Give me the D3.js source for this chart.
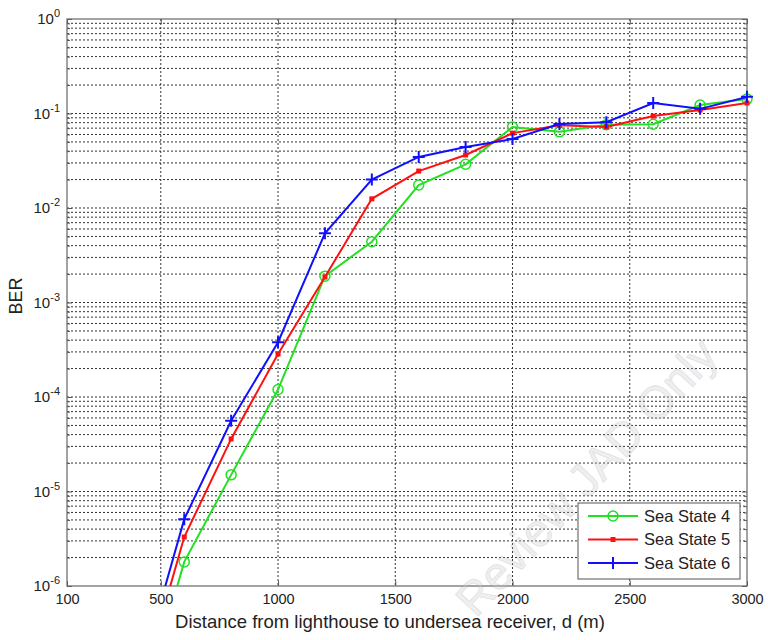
<!DOCTYPE html>
<html>
<head>
<meta charset="utf-8">
<script src="https://cdn.jsdelivr.net/npm/d3@7"></script>
<style>
  body { margin: 0; background: #fff; }
  text { font-family: Arial, 'Liberation Sans', sans-serif; fill: #222; }
</style>
</head>
<body>
<div class="chart"></div>
<script>
// values
const distance = [400, 600, 800, 1000, 1200, 1400, 1600, 1800, 2000, 2200, 2400, 2600, 2800, 3000]
const seaState4 = [3.5e-8, 1.8e-6, 1.5e-5, 1.2e-4, 1.9e-3, 4.4e-3, 1.75e-2, 2.9e-2, 7.2e-2, 6.4e-2, 7.6e-2, 7.7e-2, 1.23e-1, 1.42e-1]
const seaState5 = [6e-8, 3.3e-6, 3.6e-5, 2.85e-4, 1.86e-3, 1.25e-2, 2.46e-2, 3.64e-2, 6.2e-2, 7.5e-2, 7.2e-2, 9.4e-2, 1.09e-1, 1.29e-1]
const seaState6 = [9e-8, 5.1e-6, 5.6e-5, 3.8e-4, 5.4e-3, 2.0e-2, 3.47e-2, 4.42e-2, 5.37e-2, 7.74e-2, 8.1e-2, 1.29e-1, 1.12e-1, 1.5e-1]
const seriesNames = ['Sea State 4', 'Sea State 5', 'Sea State 6']
const xTicks = [100, 500, 1000, 1500, 2000, 2500, 3000]
const yExponents = [-6, -5, -4, -3, -2, -1, 0]

const width = 768
const height = 640
const margin = { left: 67, right: 21, top: 19, bottom: 54 }
const innerW = width - margin.left - margin.right
const innerH = height - margin.top - margin.bottom

const svg = d3
  .select('.chart')
  .append('svg')
  .attr('width', width)
  .attr('height', height)

const g = svg.append('g').attr('transform', `translate(${margin.left},${margin.top})`)

let x = d3.scaleLinear().domain([100, 3000]).range([0, innerW])
let y = d3.scaleLog().domain([1e-6, 1]).range([innerH, 0])

// minor values for log grid
let minorVals = []
yExponents.slice(0, -1).forEach((e) => {
  for (let m = 2; m <= 9; m++) minorVals.push(m * Math.pow(10, e))
})
let majorVals = yExponents.map((e) => Math.pow(10, e))

// grid
g.append('g')
  .selectAll('line')
  .data(majorVals.concat(minorVals).filter((v) => v > 1e-6 && v < 1))
  .enter()
  .append('line')
  .attr('x1', 0)
  .attr('x2', innerW)
  .attr('y1', (d) => y(d))
  .attr('y2', (d) => y(d))
  .style('stroke', '#333')
  .style('stroke-width', 1)
  .style('stroke-dasharray', '2,2')

g.append('g')
  .selectAll('line')
  .data(xTicks.slice(1, -1))
  .enter()
  .append('line')
  .attr('x1', (d) => x(d))
  .attr('x2', (d) => x(d))
  .attr('y1', 0)
  .attr('y2', innerH)
  .style('stroke', '#333')
  .style('stroke-width', 1)
  .style('stroke-dasharray', '2,2')

// axes
let xAxis = g
  .append('g')
  .attr('transform', `translate(0,${innerH})`)
  .call(d3.axisBottom(x).tickValues(xTicks).tickSize(-5).tickPadding(8).tickFormat(d3.format('d')))
g.append('g').call(d3.axisTop(x).tickValues(xTicks).tickSize(-5).tickFormat(''))

let yAxis = g.append('g').call(d3.axisLeft(y).tickValues(majorVals).tickSize(-5).tickPadding(7))
g.append('g').call(d3.axisLeft(y).tickValues(minorVals).tickSize(-3).tickFormat(''))
g.append('g')
  .attr('transform', `translate(${innerW},0)`)
  .call(d3.axisRight(y).tickValues(majorVals).tickSize(-5).tickFormat(''))
g.append('g')
  .attr('transform', `translate(${innerW},0)`)
  .call(d3.axisRight(y).tickValues(minorVals).tickSize(-3).tickFormat(''))

g.selectAll('.domain').remove()
g.selectAll('.tick line').style('stroke', '#555')
xAxis.selectAll('text').style('font-size', '14.5px').style('fill', '#222')

// 10^n labels
yAxis.selectAll('.tick text').each(function (d) {
  let t = d3.select(this)
  t.text('').style('font-size', '15px').style('fill', '#222').attr('dy', '0.3em')
  t.append('tspan').text('10')
  t.append('tspan')
    .text(Math.round(Math.log10(d)))
    .attr('dy', '-0.6em')
    .style('font-size', '11px')
})

// frame
g.append('rect')
  .attr('width', innerW)
  .attr('height', innerH)
  .style('fill', 'none')
  .style('stroke', '#666')
  .style('stroke-width', 1.2)

// series
const series = [
  { name: seriesNames[0], values: seaState4, color: '#22e022', marker: 'circle' },
  { name: seriesNames[1], values: seaState5, color: '#ff1010', marker: 'dot' },
  { name: seriesNames[2], values: seaState6, color: '#1010ff', marker: 'plus' },
]

svg
  .append('defs')
  .append('clipPath')
  .attr('id', 'plot-clip')
  .append('rect')
  .attr('width', innerW)
  .attr('height', innerH)

let line = d3
  .line()
  .x((d) => x(d[0]))
  .y((d) => y(d[1]))

function drawMarker(sel, type, color) {
  if (type === 'circle') {
    sel.append('circle').attr('r', 5).style('fill', 'none').style('stroke', color).style('stroke-width', 1.5)
  } else if (type === 'dot') {
    sel.append('rect').attr('x', -2.5).attr('y', -2.5).attr('width', 5).attr('height', 5).style('fill', color)
  } else {
    sel.append('path').attr('d', 'M-6,0H6M0,-6V6').style('stroke', color).style('stroke-width', 2)
  }
}

series.forEach((s) => {
  let pts = distance.map((d, i) => [d, s.values[i]])
  g.append('path')
    .datum(pts)
    .attr('clip-path', 'url(#plot-clip)')
    .attr('d', line)
    .style('fill', 'none')
    .style('stroke', s.color)
    .style('stroke-width', 2)

  g.selectAll('.m-' + s.marker)
    .data(pts.filter((p) => p[1] >= 1e-6))
    .enter()
    .append('g')
    .attr('class', 'm-' + s.marker)
    .attr('transform', (p) => `translate(${x(p[0])},${y(p[1])})`)
    .each(function () {
      drawMarker(d3.select(this), s.marker, s.color)
    })
})

// legend
let legend = svg.append('g').attr('transform', 'translate(578,503)')
legend
  .append('rect')
  .attr('width', 162)
  .attr('height', 76)
  .style('fill', '#fff')
  .style('stroke', '#555')
  .style('stroke-width', 1)

series.forEach((s, i) => {
  let row = legend.append('g').attr('transform', `translate(0,${13 + i * 23.5})`)
  row.append('line')
    .attr('x1', 10)
    .attr('x2', 60)
    .style('stroke', s.color)
    .style('stroke-width', 2)
  let m = row.append('g').attr('transform', 'translate(35,0)')
  drawMarker(m, s.marker, s.color)
  row.append('text')
    .attr('x', 66)
    .attr('dy', '0.35em')
    .style('font-size', '16.5px')
    .text(s.name)
})

// axis titles
svg
  .append('text')
  .attr('x', 390)
  .attr('y', 628)
  .attr('text-anchor', 'middle')
  .style('font-size', '18.5px')
  .text('Distance from lighthouse to undersea receiver, d (m)')

svg
  .append('text')
  .attr('transform', `translate(22,296) rotate(-90)`)
  .attr('text-anchor', 'middle')
  .style('font-size', '18px')
  .text('BER')

// faint watermark
svg
  .append('text')
  .attr('transform', 'translate(598,488) rotate(-47)')
  .attr('text-anchor', 'middle')
  .style('font-size', '46px')
  .style('fill', '#ccc')
  .style('stroke', '#999')
  .style('stroke-width', 0.8)
  .style('opacity', 0.3)
  .text('Review JAD Only')
</script>
</body>
</html>
